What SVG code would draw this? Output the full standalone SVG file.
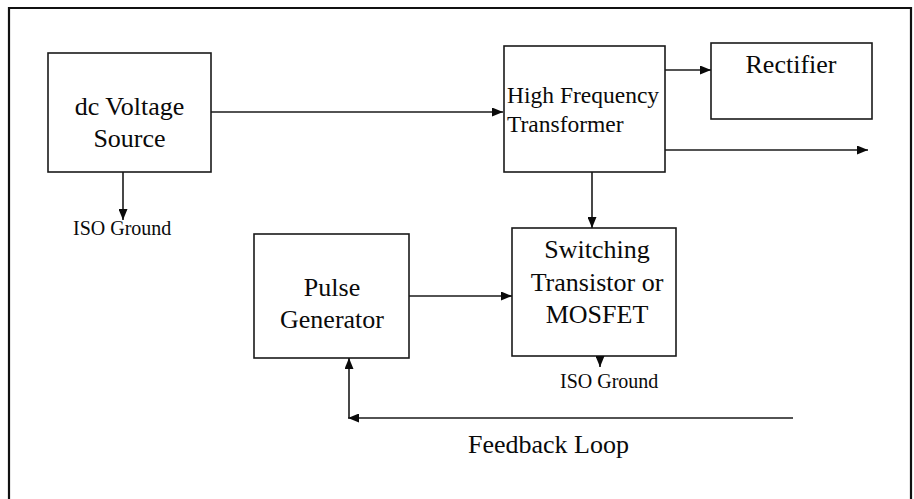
<svg xmlns="http://www.w3.org/2000/svg" width="914" height="499" viewBox="0 0 914 499">
<style>
.box{fill:#fff;stroke:#1a1a1a;stroke-width:1.6}
.t{font-family:"Liberation Serif","Times New Roman",serif;fill:#0a0a0a}
.c{text-anchor:middle}
.ln{fill:none;stroke:#1a1a1a;stroke-width:1.6}
</style>
<defs>
<marker id="ah" viewBox="0 0 11 9" refX="11" refY="4.5" markerWidth="11" markerHeight="9" markerUnits="userSpaceOnUse" orient="auto">
<path d="M0,0 L11,4.5 L0,9 Z" fill="#0a0a0a"/>
</marker>
</defs>
<rect width="914" height="499" fill="#fff"/>
<path d="M9,505 L9,8 L911,8 L911,505" fill="none" stroke="#111" stroke-width="2.2"/>
<g id="dc">
<rect class="box" x="48" y="53" width="163" height="119"/>
<text class="t c" x="129.5" y="115" font-size="26">dc Voltage</text>
<text class="t c" x="129.5" y="147" font-size="26">Source</text>
</g>
<g id="transformer">
<rect class="box" x="504" y="46" width="161" height="126"/>
<text class="t" x="507" y="103" font-size="23.5">High Frequency</text>
<text class="t" x="507" y="132" font-size="23.5">Transformer</text>
</g>
<g id="rectifier">
<rect class="box" x="711" y="43" width="161" height="76"/>
<text class="t c" x="791" y="73" font-size="26">Rectifier</text>
</g>
<g id="switching">
<rect class="box" x="512" y="228" width="164" height="128"/>
<text class="t c" x="597" y="258" font-size="26">Switching</text>
<text class="t c" x="597" y="291" font-size="26">Transistor or</text>
<text class="t c" x="597" y="323" font-size="26">MOSFET</text>
</g>
<g id="pulse">
<rect class="box" x="254" y="234" width="155" height="124"/>
<text class="t c" x="332" y="296" font-size="26">Pulse</text>
<text class="t c" x="332" y="328" font-size="26">Generator</text>
</g>
<g id="ground1">
<text class="t" x="73" y="235" font-size="20">ISO Ground</text>
</g>
<g id="ground2">
<text class="t" x="560" y="388" font-size="20">ISO Ground</text>
</g>
<g id="feedback-label">
<text class="t" x="468" y="453" font-size="26">Feedback Loop</text>
</g>
<g id="connectors">
<path class="ln" d="M211,112 L503,112" marker-end="url(#ah)"/>
<path class="ln" d="M123,172 L123,220" marker-end="url(#ah)"/>
<path class="ln" d="M665,70 L711,70" marker-end="url(#ah)"/>
<path class="ln" d="M665,150 L868,150" marker-end="url(#ah)"/>
<path class="ln" d="M592,172 L592,228" marker-end="url(#ah)"/>
<path class="ln" d="M409,296 L512,296" marker-end="url(#ah)"/>
<path class="ln" d="M600,356 L600,367" marker-end="url(#ah)"/>
<path class="ln" d="M793,418 L348,418" marker-end="url(#ah)"/>
<path class="ln" d="M349,418 L349,358" marker-end="url(#ah)"/>
</g>
</svg>
